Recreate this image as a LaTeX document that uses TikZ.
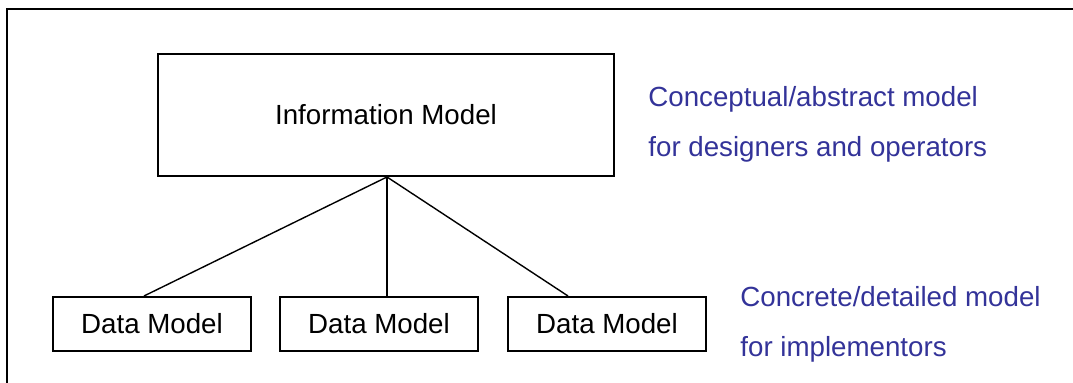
\documentclass[tikz,border=0pt]{standalone}
\usepackage{fontspec}
\setmainfont{Liberation Sans}
\definecolor{notecol}{RGB}{51,51,153}
\tikzset{
  modelbox/.style={draw, line width=1pt, rectangle, inner sep=0pt, font=\fontsize{13.85}{16}\selectfont},
  link/.style={line width=0.7pt},
  note/.style={text=notecol, inner sep=0pt, anchor=base west, font=\fontsize{13.85}{16}\selectfont}
}
\begin{document}
\begin{tikzpicture}[x=0.5pt, y=-0.5pt]
		\useasboundingbox (0,0) rectangle (1073,383);
		\draw[line width=1.2pt] (7,383) -- (7,9) -- (1073,9);
		\node[modelbox, minimum width=228pt, minimum height=61pt] (info) at (386,115) {Information Model};
		\node[modelbox, minimum width=99pt, minimum height=27pt] (dmA) at (152,324) {Data Model};
		\node[modelbox, minimum width=99pt, minimum height=27pt] (dmB) at (379,324) {Data Model};
		\node[modelbox, minimum width=99pt, minimum height=27pt] (dmC) at (607,324) {Data Model};
		\draw[link] ([xshift=0.5pt]info.south) -- ([xshift=-4pt]dmA.north);
		\draw[link] ([xshift=0.5pt]info.south) -- ([xshift=4pt]dmB.north);
		\draw[link] ([xshift=0.5pt]info.south) -- ([xshift=-19.5pt]dmC.north);
		\node[note] (infoA) at (648,107) {Conceptual/abstract model};
		\node[note] (infoB) at (648,157) {for designers and operators};
		\node[note] (dataA) at (740,307) {Concrete/detailed model};
		\node[note] (dataB) at (740,357) {for implementors};
		\end{tikzpicture}
\end{document}
